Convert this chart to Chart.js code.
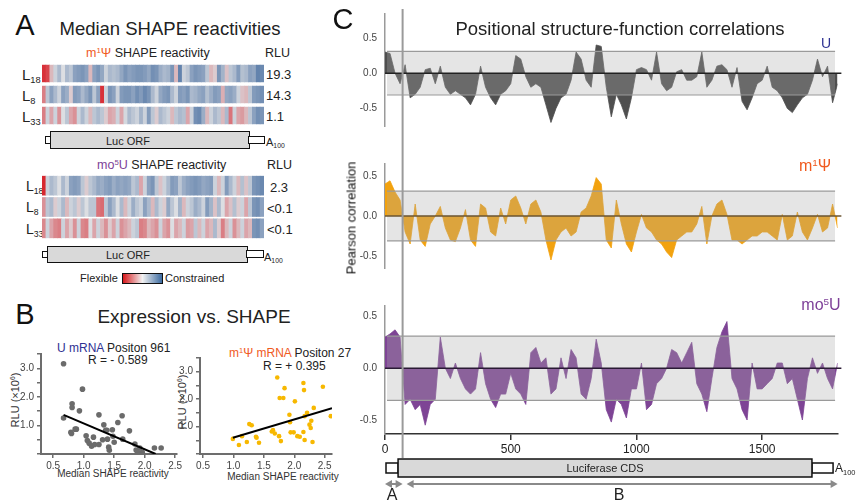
<!DOCTYPE html>
<html>
<head>
<meta charset="utf-8">
<script src="https://cdn.jsdelivr.net/npm/chart.js@4.4.0/dist/chart.umd.min.js"></script>
<style>
  body { margin: 0; background: #fff; font-family: "Liberation Sans", Arial, sans-serif; }
  #fig { position: relative; width: 861px; height: 502px; overflow: hidden; }
  canvas { position: absolute; }
  .t { position: absolute; white-space: nowrap; line-height: 1; color: #222; }
  .c { transform: translate(-50%, -50%); }
  .l { transform: translate(0, -50%); }
  .r { transform: translate(-50%, -50%) rotate(-90deg); }
  sup { font-size: 0.62em; vertical-align: 0.55em; line-height: 0; }
  sub { font-size: 0.62em; vertical-align: -0.35em; line-height: 0; }
  .box { position: absolute; box-sizing: border-box; border: 1.5px solid #111; }
</style>
</head>
<body>
<div id="fig">
  <!-- panel A -->
  <div class="t c" style="left:25px;top:25px;font-size:29px;color:#111">A</div>
  <div class="t c" style="left:170px;top:29px;font-size:18.5px">Median SHAPE reactivities</div>
  <div class="t l" style="left:86px;top:53px;font-size:12.5px"><span style="color:#f05a1e">m<sup>1</sup>Ψ</span> SHAPE reactivity</div>
  <div class="t l" style="left:265px;top:53px;font-size:12.5px">RLU</div>
  <div class="t l" style="left:22px;top:74px;font-size:15px">L<sub>18</sub></div>
  <div class="t l" style="left:22px;top:95px;font-size:15px">L<sub>8</sub></div>
  <div class="t l" style="left:22px;top:116px;font-size:15px">L<sub>33</sub></div>
  <div class="t l" style="left:266px;top:74px;font-size:13px">19.3</div>
  <div class="t l" style="left:266px;top:95px;font-size:13px">14.3</div>
  <div class="t l" style="left:266px;top:116px;font-size:13px">1.1</div>
  <canvas id="heatM1" width="222" height="63" style="left:42px;top:63px"></canvas>
  <div class="box" style="left:45px;top:136px;width:7px;height:8px;background:#fff"></div>
  <div class="box" style="left:50px;top:131px;width:200px;height:18px;background:#d9d9d9"></div>
  <div class="box" style="left:248px;top:136px;width:17px;height:8px;background:#fff"></div>
  <div class="t c" style="left:128px;top:141px;font-size:11px">Luc ORF</div>
  <div class="t l" style="left:266px;top:142px;font-size:11px">A<sub>100</sub></div>

  <div class="t l" style="left:97px;top:165px;font-size:12.5px"><span style="color:#7d3f98">mo<sup>5</sup>U</span> SHAPE reactivity</div>
  <div class="t l" style="left:267px;top:165px;font-size:12.5px">RLU</div>
  <div class="t l" style="left:26px;top:186px;font-size:14px">L<sub>18</sub></div>
  <div class="t l" style="left:26px;top:207px;font-size:14px">L<sub>8</sub></div>
  <div class="t l" style="left:26px;top:229px;font-size:14px">L<sub>33</sub></div>
  <div class="t l" style="left:270px;top:187px;font-size:13px">2.3</div>
  <div class="t l" style="left:267px;top:208px;font-size:13px">&lt;0.1</div>
  <div class="t l" style="left:267px;top:229px;font-size:13px">&lt;0.1</div>
  <canvas id="heatMo5" width="222" height="64" style="left:42px;top:175px"></canvas>
  <div class="box" style="left:42px;top:251px;width:7px;height:7px;background:#fff"></div>
  <div class="box" style="left:47px;top:246px;width:201px;height:17px;background:#d9d9d9"></div>
  <div class="box" style="left:246px;top:250px;width:18px;height:8px;background:#fff"></div>
  <div class="t c" style="left:128px;top:255px;font-size:11px">Luc ORF</div>
  <div class="t l" style="left:264px;top:257px;font-size:11px">A<sub>100</sub></div>

  <div class="t l" style="left:80px;top:278px;font-size:11px">Flexible</div>
  <div class="box" style="left:122px;top:273px;width:41px;height:11px;background:linear-gradient(to right,#d7191c,#f2f2f2 50%,#3b6aa0)"></div>
  <div class="t l" style="left:165px;top:278px;font-size:11px">Constrained</div>

  <!-- panel B -->
  <div class="t c" style="left:25px;top:314px;font-size:29px;color:#111">B</div>
  <div class="t c" style="left:194px;top:316px;font-size:19px">Expression vs. SHAPE</div>
  <div class="t l" style="left:57px;top:348px;font-size:12px"><span style="color:#2e3192">U mRNA</span> Positon 961</div>
  <div class="t l" style="left:88px;top:360px;font-size:12px">R = - 0.589</div>
  <div class="t l" style="left:229px;top:353px;font-size:12px"><span style="color:#f05a1e">m<sup>1</sup>Ψ mRNA</span> Positon 27</div>
  <div class="t l" style="left:263px;top:366px;font-size:12px">R = + 0.395</div>
  <div class="t r" style="left:15px;top:400px;font-size:11px;color:#333">RLU (×10<sup>6</sup>)</div>
  <div class="t r" style="left:182px;top:402px;font-size:11px;color:#333">RLU (×10<sup>6</sup>)</div>
  <div class="t c" style="left:113px;top:474px;font-size:10px;color:#333">Median SHAPE reactivity</div>
  <div class="t c" style="left:283px;top:477px;font-size:10px;color:#333">Median SHAPE reactivity</div>
  <canvas id="scatU" width="185" height="130" style="left:0px;top:345px"></canvas>

  <!-- panel C -->
  <canvas id="corrU" width="531" height="150" style="left:330px;top:0px"></canvas>
  <canvas id="corrM1" width="531" height="142" style="left:330px;top:150px"></canvas>
  <canvas id="corrMo5" width="531" height="210" style="left:330px;top:292px"></canvas>
  <div class="t c" style="left:343px;top:19px;font-size:29px;color:#111">C</div>
  <div class="t c" style="left:620px;top:29px;font-size:18.5px">Positional structure-function correlations</div>
  <div class="t c" style="left:826px;top:43px;font-size:14px;color:#2e3192">U</div>
  <div class="t c" style="left:815px;top:166px;font-size:16px;color:#f05a1e">m<sup>1</sup>Ψ</div>
  <div class="t c" style="left:821px;top:305px;font-size:16px;color:#7d3f98">mo<sup>5</sup>U</div>
  <div class="t r" style="left:351px;top:218px;font-size:13px;color:#111">Pearson correlation</div>
  <div class="t l" style="left:835px;top:468px;font-size:12px">A<sub>100</sub></div>
  <div class="t c" style="left:392px;top:495px;font-size:16px">A</div>
  <div class="t c" style="left:619px;top:495px;font-size:16px">B</div>

  <canvas id="scatM1" width="176" height="130" style="left:160px;top:345px"></canvas>
</div>

<script>
// median SHAPE reactivity per window, -1 = flexible (red), +1 = constrained (blue)
const m1L18 = [-0.9,-0.8,-0.2,0.1,0.3,0.0,0.3,0.2,0.5,0.55,0.6,0.5,-0.2,0.5,0.6,0.45,0.1,0.3,0.25,0.3,0.45,0.6,0.5,0.55,0.6,0.6,0.55,0.45,0.65,0.6,0.4,0.3,0.35,0.6,-0.2,0.75,0.1,0.2,0.5,0.6,0.55,0.5,0.2,-0.2,-0.1,0.6,0.35,-0.15,0.2,0.3,0.55,0.25,0.3,0.5,0.45,0.75,0.7];
const m1L8 = [-0.5,0.2,0.5,0.3,0.1,0.5,0.4,-0.1,0.55,0.5,0.3,0.45,0.6,0.2,0.5,-0.9,0.1,0.6,0.5,0.1,0.55,0.6,0.6,0.5,0.65,0.55,0.7,0.6,0.3,0.1,0.45,0.55,0.6,0.3,0.1,0.55,0.5,0.6,0.3,0.35,0.45,0.5,0.25,0.4,0.55,0.5,-0.25,0.45,0.5,0.4,0.1,-0.15,-0.2,0.2,0.55,0.6,0.65];
const m1L33 = [-0.5,0.1,-0.3,0.1,-0.4,0.0,0.2,-0.3,-0.4,0.1,0.3,0.1,-0.2,0.2,0.3,0.2,-0.1,-0.3,-0.25,0.1,-0.3,0.05,0.3,0.2,0.1,0.35,0.1,0.55,0.2,-0.1,0.3,0.2,0.1,-0.2,0.2,0.3,0.25,-0.3,0.1,0.65,0.7,0.4,-0.2,0.1,0.3,0.2,-0.2,0.3,-0.55,0.1,-0.3,-0.35,-0.2,0.2,0.5,0.65,0.6];
const mo5L18 = [-0.95,0.1,0.3,0.2,0.0,0.3,0.1,0.5,0.55,0.5,0.2,-0.1,0.2,0.3,0.45,0.4,0.5,0.55,0.4,0.5,0.45,0.5,0.45,0.2,0.3,-0.3,0.1,0.5,0.6,0.2,-0.15,0.1,0.3,0.55,0.5,0.2,0.4,0.5,0.55,0.6,0.55,0.45,0.5,0.55,0.1,-0.2,0.1,0.55,0.3,0.1,-0.2,0.25,-0.15,0.2,0.6,0.65,0.7];
const mo5L8 = [-0.4,0.2,0.3,-0.1,0.1,0.3,-0.2,0.1,0.2,-0.1,0.2,0.0,0.2,0.2,-0.55,-0.6,0.2,0.5,0.3,0.0,0.3,-0.2,0.1,0.4,0.2,0.1,0.5,0.3,-0.2,0.3,0.1,-0.1,0.45,0.2,0.0,0.35,-0.2,0.1,0.2,0.4,0.3,0.1,0.55,0.35,-0.15,0.3,0.0,-0.3,-0.15,0.25,-0.1,0.1,-0.3,0.2,0.6,0.65,0.5];
const mo5L33 = [-0.45,0.1,-0.3,-0.45,-0.5,0.1,-0.3,-0.1,-0.4,0.1,-0.45,-0.5,0.0,-0.3,0.1,-0.2,-0.4,-0.1,-0.3,0.1,-0.4,-0.3,-0.2,0.1,0.2,-0.5,-0.45,-0.2,-0.3,-0.4,0.1,-0.3,-0.4,0.0,-0.3,-0.2,0.1,-0.35,-0.3,0.2,-0.2,0.1,-0.3,-0.2,0.3,-0.1,-0.5,-0.2,0.1,-0.4,-0.2,0.1,-0.3,-0.2,0.6,0.65,0.5];

// expression vs SHAPE scatter
const uShape = [0.67,0.67,0.98,0.81,0.81,0.93,0.79,0.80,0.86,0.88,1.04,1.06,1.09,1.13,1.16,1.18,1.25,1.25,1.31,1.33,1.36,1.38,1.39,1.41,1.42,1.47,1.48,1.50,1.56,1.63,1.64,1.75,1.84,1.86,1.88,1.92,1.96,2.16,2.27];
const uRlu = [3.16,1.26,2.27,1.76,1.63,1.51,0.76,0.72,0.87,0.87,0.64,0.47,0.38,0.27,0.59,0.33,1.37,0.33,0.50,1.02,0.83,0.83,0.52,0.24,0.13,0.85,0.62,0.41,1.10,1.34,0.52,0.81,0.35,0.14,0.08,0.21,0.06,0.21,0.21];
const uFitX = [0.67, 2.18];
const uFitY = [1.37, 0.0];
const m1Shape = [0.99,1.09,1.14,1.22,1.26,1.30,1.37,1.38,1.42,1.63,1.65,1.68,1.72,1.75,1.76,1.82,1.84,1.78,1.92,1.93,1.94,1.99,2.01,2.05,2.09,2.15,2.15,2.16,2.17,2.17,2.21,2.25,2.28,2.27,2.30,2.32,2.47,2.60];
const m1Rlu = [0.55,0.33,0.65,0.44,1.09,1.05,0.63,0.59,0.41,0.82,0.87,0.75,2.79,0.65,2.04,2.04,2.40,0.47,1.43,1.16,0.79,0.79,1.92,0.65,0.63,0.80,2.59,2.33,1.38,0.51,1.50,1.07,1.21,0.95,0.44,1.68,2.45,1.38];
const m1FitX = [0.99, 2.62];
const m1FitY = [0.59, 1.67];
const rluTicks = [0, 0.5, 1, 1.5, 2, 2.5, 3, 3.5];
const shapeTicks = [0.5, 1, 1.5, 2, 2.5];

// positional correlation, every 20 nt
const positions = [0,20,40,60,80,100,120,140,160,180,200,220,240,260,280,300,320,340,360,380,400,420,440,460,480,500,520,540,560,580,600,620,640,660,680,700,720,740,760,780,800,820,840,860,880,900,920,940,960,980,1000,1020,1040,1060,1080,1100,1120,1140,1160,1180,1200,1220,1240,1260,1280,1300,1320,1340,1360,1380,1400,1420,1440,1460,1480,1500,1520,1540,1560,1580,1600,1620,1640,1660,1680,1700,1720,1740,1760,1780,1800];
const corrU = [0.3,0.28,0.0,-0.15,0.12,-0.35,-0.3,-0.2,0.05,0.07,-0.15,0.1,-0.2,-0.3,-0.25,-0.3,-0.35,-0.45,-0.3,0.1,-0.2,-0.35,-0.45,-0.3,-0.25,-0.15,0.25,0.2,-0.05,-0.2,-0.15,-0.2,-0.45,-0.7,-0.5,-0.35,-0.3,-0.1,0.3,0.2,-0.1,-0.2,0.4,0.38,-0.2,-0.62,-0.3,-0.45,-0.65,-0.35,0.05,0.08,0.05,-0.1,0.3,-0.15,-0.25,-0.2,0.02,0.05,-0.1,-0.1,-0.05,0.3,-0.2,-0.1,0.1,0.12,0.05,-0.2,0.08,-0.4,-0.52,-0.35,-0.15,-0.1,0.1,-0.2,-0.25,-0.35,-0.5,-0.56,-0.45,-0.35,-0.3,-0.1,0.2,-0.05,0.1,-0.42,-0.15];
const corrM1 = [0.4,0.44,0.3,0.2,-0.2,-0.35,0.15,-0.3,-0.38,-0.1,0.0,0.12,-0.15,-0.3,-0.32,-0.15,0.08,-0.3,-0.38,0.15,0.1,-0.2,-0.25,0.1,-0.1,0.2,0.25,0.1,-0.1,0.15,0.2,0.05,-0.3,-0.55,-0.3,-0.2,-0.15,-0.25,-0.2,0.05,0.1,0.25,0.48,0.4,-0.3,-0.4,0.2,-0.1,-0.35,-0.45,-0.2,0.02,-0.15,-0.2,-0.3,-0.35,-0.45,-0.52,-0.3,-0.25,-0.2,-0.2,-0.1,0.12,-0.35,0.0,0.15,0.2,0.02,-0.3,-0.3,-0.35,-0.3,-0.25,-0.25,-0.2,-0.2,-0.25,-0.3,0.02,-0.3,-0.25,0.05,-0.2,-0.3,-0.15,0.02,-0.2,-0.15,0.15,-0.15];
const corrMo5 = [0.3,0.33,0.37,0.3,-0.35,-0.3,-0.4,-0.35,-0.55,-0.35,-0.3,0.3,0.0,-0.1,0.05,-0.1,-0.2,-0.25,-0.2,0.15,-0.15,-0.3,-0.38,-0.25,-0.25,-0.05,-0.2,-0.25,-0.35,0.15,0.2,0.05,0.1,-0.25,-0.2,0.1,-0.1,0.18,0.1,-0.25,-0.3,-0.1,0.28,0.05,-0.4,-0.52,-0.3,-0.35,-0.48,-0.2,-0.2,0.05,-0.4,-0.35,-0.15,-0.1,0.0,0.18,0.15,0.05,0.15,0.25,-0.15,-0.25,-0.42,-0.1,0.2,0.35,0.45,-0.1,-0.2,-0.4,-0.5,0.05,-0.2,-0.2,-0.15,-0.1,0.05,0.05,-0.15,-0.1,-0.3,-0.5,-0.1,0.1,-0.05,0.05,-0.1,-0.2,0.05];
const corrTicks = [-0.5, 0, 0.5];
const posTicks = [0, 500, 1000, 1500];
const bandHi = 0.31, bandLo = -0.31, bandStart = 8, bandEnd = 1790;
const splitPos = 70;
const utr5 = [4, 52], cds = [52, 1698], utr3 = [1698, 1782];

Chart.defaults.font.family = '"Liberation Sans", Arial, sans-serif';

const flexRgb = [215, 30, 38], midRgb = [220, 222, 226], rigidRgb = [58, 100, 155];
function shapeColor(v) {
  const end = v < 0 ? flexRgb : rigidRgb;
  const t = Math.min(1, Math.abs(v));
  const c = midRgb.map((m, k) => Math.round(m + (end[k] - m) * t));
  return `rgb(${c})`;
}

function heatStrip(id, rows, gap) {
  new Chart(document.getElementById(id), {
    type: 'bar',
    data: {
      labels: rows[0].map((_, i) => i),
      datasets: rows.map((vals, r) => ({
        data: vals.map(() => [rows.length - r - 1 + gap, rows.length - r - gap]),
        backgroundColor: vals.map(shapeColor),
        borderWidth: 0,
        barPercentage: 1,
        categoryPercentage: 1,
        grouped: false
      }))
    },
    options: {
      responsive: false, animation: false, events: [],
      layout: { padding: 0 },
      plugins: { legend: { display: false }, tooltip: { enabled: false } },
      scales: { x: { display: false }, y: { display: false, min: 0, max: rows.length } }
    }
  });
}
heatStrip('heatM1', [m1L18, m1L8, m1L33], 0.1);
heatStrip('heatMo5', [mo5L18, mo5L8, mo5L33], 0.055);

const axisGrey = '#6d6d6d';
function scatter(id, xs, ys, fx, fy, color, r, xMin, xMax, pad, yWidth) {
  new Chart(document.getElementById(id), {
    type: 'scatter',
    data: {
      datasets: [
        { type: 'line', data: fx.map((x, i) => ({ x, y: fy[i] })), borderColor: '#000', borderWidth: 2, pointRadius: 0, fill: false, order: 0 },
        { data: xs.map((x, i) => ({ x, y: ys[i] })), backgroundColor: color, borderWidth: 0, pointRadius: r, order: 1 }
      ]
    },
    options: {
      responsive: false, animation: false, events: [],
      layout: { padding: pad },
      plugins: { legend: { display: false }, tooltip: { enabled: false } },
      scales: {
        x: {
          type: 'linear', min: xMin, max: xMax,
          afterBuildTicks: s => { s.ticks = shapeTicks.map(v => ({ value: v })); },
          afterFit: s => { s.height = 21; },
          ticks: { callback: v => v.toFixed(1), font: { size: 10 }, color: '#444', padding: 2, maxRotation: 0, autoSkip: false },
          grid: { display: true, drawOnChartArea: false, tickLength: 4, color: axisGrey, lineWidth: 1.5 },
          border: { display: true, color: axisGrey, width: 2 }
        },
        y: {
          min: 0, max: 3.5,
          afterBuildTicks: s => { s.ticks = rluTicks.map(v => ({ value: v })); },
          afterFit: s => { s.width = yWidth; },
          ticks: { callback: v => (v > 0 && Number.isInteger(v)) ? v.toFixed(1) : '', font: { size: 10 }, color: '#444', padding: 3, autoSkip: false },
          grid: { display: true, drawOnChartArea: false, tickLength: 4, color: axisGrey, lineWidth: 1.5 },
          border: { display: true, color: axisGrey, width: 2 }
        }
      }
    }
  });
}
scatter('scatU', uShape, uRlu, uFitX, uFitY, '#6b6b6b', 2.8, 0.3, 2.53, { top: 9, right: 8, left: 0, bottom: 0 }, 41);
scatter('scatM1', m1Shape, m1Rlu, m1FitX, m1FitY, '#f7b800', 2.3, 0.45, 2.62, { top: 13, right: 3, left: 0, bottom: 0 }, 40);

// grey line at the end of the 5' UTR, through all three panels
const splitLine = {
  id: 'splitLine',
  afterDatasetsDraw(chart, args, o) {
    const x = chart.scales.x.getPixelForValue(splitPos);
    const ctx = chart.ctx;
    ctx.save();
    ctx.strokeStyle = '#9a9a9a';
    ctx.lineWidth = 2;
    ctx.beginPath();
    ctx.moveTo(x, o.top);
    ctx.lineTo(x, o.bottom);
    ctx.stroke();
    ctx.restore();
  }
};

// mRNA map under the bottom panel
const cdsMap = {
  id: 'cdsMap',
  afterDraw(chart) {
    const xs = chart.scales.x, ctx = chart.ctx;
    const px = v => xs.getPixelForValue(v);
    ctx.save();
    ctx.lineWidth = 1.5;
    ctx.strokeStyle = '#111';
    ctx.fillStyle = '#fff';
    ctx.fillRect(px(utr5[0]), 171, px(utr5[1]) - px(utr5[0]), 10);
    ctx.strokeRect(px(utr5[0]), 171, px(utr5[1]) - px(utr5[0]), 10);
    ctx.fillRect(px(utr3[0]), 171, px(utr3[1]) - px(utr3[0]), 10);
    ctx.strokeRect(px(utr3[0]), 171, px(utr3[1]) - px(utr3[0]), 10);
    ctx.fillStyle = '#d9d9d9';
    ctx.fillRect(px(cds[0]), 167, px(cds[1]) - px(cds[0]), 18);
    ctx.strokeRect(px(cds[0]), 167, px(cds[1]) - px(cds[0]), 18);
    ctx.fillStyle = '#222';
    ctx.font = '11px "Liberation Sans", Arial, sans-serif';
    ctx.textAlign = 'center';
    ctx.textBaseline = 'middle';
    ctx.fillText('Luciferase CDS', px((cds[0] + cds[1]) / 2), 176.5);
    // region arrows
    const arrow = (a, b, y) => {
      ctx.strokeStyle = '#8a8a8a';
      ctx.fillStyle = '#8a8a8a';
      ctx.lineWidth = 2;
      ctx.beginPath(); ctx.moveTo(a + 4, y); ctx.lineTo(b - 4, y); ctx.stroke();
      ctx.beginPath(); ctx.moveTo(a, y); ctx.lineTo(a + 7, y - 4); ctx.lineTo(a + 7, y + 4); ctx.fill();
      ctx.beginPath(); ctx.moveTo(b, y); ctx.lineTo(b - 7, y - 4); ctx.lineTo(b - 7, y + 4); ctx.fill();
    };
    arrow(px(0), px(splitPos), 192);
    arrow(px(splitPos) + 4, px(1800), 192);
    ctx.restore();
  }
};

function corrPanel(id, vals, o) {
  new Chart(document.getElementById(id), {
    type: 'line',
    data: {
      datasets: [
        { data: positions.map((p, i) => ({ x: p, y: vals[i] })), borderColor: o.fill, backgroundColor: o.fill, borderWidth: 0.8, fill: 'origin', pointRadius: 0, tension: 0, order: 4 },
        { data: [{ x: bandStart, y: bandHi }, { x: bandEnd, y: bandHi }], borderWidth: 0, backgroundColor: 'rgba(170,170,170,0.3)', fill: { value: bandLo }, pointRadius: 0, order: 3 },
        { data: [{ x: bandStart, y: bandHi }, { x: bandEnd, y: bandHi }], borderColor: '#9a9a9a', borderWidth: 1.2, pointRadius: 0, fill: false, order: 2 },
        { data: [{ x: bandStart, y: bandLo }, { x: bandEnd, y: bandLo }], borderColor: '#9a9a9a', borderWidth: 1.2, pointRadius: 0, fill: false, order: 2 },
        { data: [{ x: 0, y: 0 }, { x: 1815, y: 0 }], borderColor: o.zero, borderWidth: 1.5, pointRadius: 0, fill: false, clip: false, order: 1 }
      ]
    },
    options: {
      responsive: false, animation: false, events: [],
      layout: { padding: { top: o.padTop, right: 23.4, bottom: o.padBottom, left: 0 } },
      plugins: { legend: { display: false }, tooltip: { enabled: false }, splitLine: o.split },
      scales: {
        x: {
          type: 'linear', min: 0, max: 1800, display: o.showX,
          afterBuildTicks: s => { s.ticks = posTicks.map(v => ({ value: v })); },
          afterFit: s => { s.height = 24; },
          ticks: { callback: v => String(v), font: { size: 12 }, color: '#222', padding: 2, maxRotation: 0, autoSkip: false },
          grid: { display: true, drawOnChartArea: false, tickLength: 6, color: '#333', lineWidth: 1.5 },
          border: { display: true, color: '#333', width: 1.5 }
        },
        y: {
          min: o.yMin, max: o.yMax,
          afterBuildTicks: s => { s.ticks = corrTicks.map(v => ({ value: v })); },
          afterFit: s => { s.width = 55; },
          ticks: { callback: v => v.toFixed(1), font: { size: 10 }, color: '#444', padding: 8 },
          grid: { display: false, drawTicks: false },
          border: { display: true, color: '#9a9a9a', width: 1.5 }
        }
      }
    },
    plugins: o.showX ? [splitLine, cdsMap] : [splitLine]
  });
}
corrPanel('corrU', corrU, { fill: '#4f4f4f', zero: '#222', padTop: 10, padBottom: 0, showX: false, yMin: -0.75, yMax: 0.84, split: { top: 9, bottom: 150 } });
corrPanel('corrM1', corrM1, { fill: '#f2a20f', zero: '#6b5530', padTop: 0, padBottom: 0, showX: false, yMin: -0.65, yMax: 0.65, split: { top: 0, bottom: 142 } });
corrPanel('corrMo5', corrMo5, { fill: '#7e4495', zero: '#2a1a35', padTop: 0, padBottom: 44, showX: true, yMin: -0.635, yMax: 0.6, split: { top: 0, bottom: 166 } });
</script>
</body>
</html>
